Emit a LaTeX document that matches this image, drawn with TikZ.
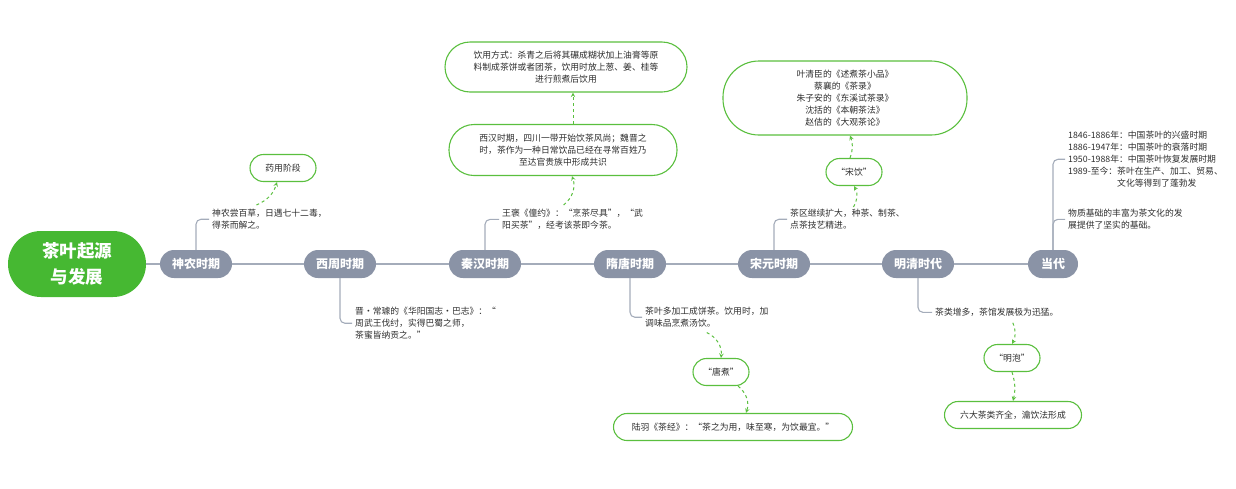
\documentclass[tikz,border=0pt]{standalone}
\usepackage{fontspec}
\setmainfont{Noto Sans CJK SC}
\usepackage{tikz}
\usetikzlibrary{arrows}
\definecolor{leafgreen}{HTML}{46B832}
\definecolor{rimgreen}{HTML}{5ABF3E}
\definecolor{slate}{HTML}{8A93A6}
\definecolor{wire}{HTML}{A4ACBA}
\definecolor{ink}{HTML}{2E2E2E}

\begin{document}
\begin{tikzpicture}[x=1pt,y=-1pt,
    period/.style={fill=slate,text=white,font=\fontsize{12}{14}\selectfont\bfseries,minimum height=28pt,minimum width=72pt,rounded corners=14pt,inner sep=0pt},
    bubble/.style={draw=rimgreen,line width=1.1pt,fill=white,text=ink,font=\fontsize{8.8}{12}\selectfont,align=center,minimum height=27pt,rounded corners=13.5pt,inner sep=0pt},
    note/.style={text=ink,font=\fontsize{8.8}{12}\selectfont,align=left,anchor=north west,inner sep=0pt},
    trunk/.style={draw=wire,line width=1.3pt},
    branch/.style={draw=wire,line width=1.1pt,rounded corners=5pt,shorten >=3pt},
    hint/.style={draw=rimgreen,line width=1pt,dashed,-stealth}]
    \useasboundingbox (0,0) rectangle (1236,488);

    \node[fill=leafgreen,text=white,font=\fontsize{17.5}{26}\selectfont\bfseries,align=center,minimum width=138pt,minimum height=66pt,rounded corners=33pt,inner sep=0pt] (root) at (77,264) {茶叶起源\\与发展};
    \node[period] (shennong) at (196,264) {神农时期};
    \node[period] (xizhou) at (340,264) {西周时期};
    \node[period] (qinhan) at (485,264) {秦汉时期};
    \node[period] (suitang) at (630,264) {隋唐时期};
    \node[period] (songyuan) at (774,264) {宋元时期};
    \node[period] (mingqing) at (918,264) {明清时代};
    \node[period,minimum width=50pt] (dangdai) at (1053,264) {当代};
    \draw[trunk] (root) -- (shennong) -- (xizhou) -- (qinhan) -- (suitang) -- (songyuan) -- (mingqing) -- (dangdai);

    \node[note] (sn_txt) at (212,209) {神农尝百草，日遇七十二毒，\\得茶而解之。};
    \node[note] (xz_txt) at (355,307) {晋·常璩的《华阳国志·巴志》：“\\周武王伐纣，实得巴蜀之师，\\茶蜜皆纳贡之。”};
    \node[note] (qh_txt) at (502,209) {王褒《僮约》：“烹茶尽具”，“武\\阳买茶”，经考该茶即今茶。};
    \node[note] (st_txt) at (645,307) {茶叶多加工成饼茶。饮用时，加\\调味品烹煮汤饮。};
    \node[note] (sy_txt) at (790,209) {茶区继续扩大，种茶、制茶、\\点茶技艺精进。};
    \node[note] (mq_txt) at (935,308) {茶类增多，茶馆发展极为迅猛。};
    \node[note] (dd_txt) at (1068,131) {1846-1886年：中国茶叶的兴盛时期\\1886-1947年：中国茶叶的衰落时期\\1950-1988年：中国茶叶恢复发展时期\\1989-至今：茶叶在生产、加工、贸易、\\\phantom{1989-至今：}文化等得到了蓬勃发};
    \node[note] (dd_base) at (1068,209) {物质基础的丰富为茶文化的发\\展提供了坚实的基础。};

    \draw[branch] (shennong.north) |- (sn_txt.west);
    \draw[branch] (xizhou.south) |- (xz_txt.west);
    \draw[branch] (qinhan.north) |- (qh_txt.west);
    \draw[branch] (suitang.south) |- (st_txt.west);
    \draw[branch] (songyuan.north) |- (sy_txt.west);
    \draw[branch] (mingqing.south) |- (mq_txt.west);
    \draw[branch] (dangdai.north) |- (dd_txt.west);
    \draw[branch] (dangdai.north) |- (dd_base.west);

    \node[bubble,minimum width=66pt] (yaoyong) at (283,168) {药用阶段};
    \node[bubble,minimum width=228pt,minimum height=51pt,rounded corners=25pt] (xihan) at (563,150) {西汉时期，四川一带开始饮茶风尚；魏晋之\\时，茶作为一种日常饮品已经在寻常百姓乃\\至达官贵族中形成共识};
    \node[bubble,minimum width=242pt,minimum height=50pt,rounded corners=25pt] (yinyong) at (566,67) {饮用方式：杀青之后将其碾成糊状加上油膏等原\\料制成茶饼或者团茶，饮用时放上葱、姜、桂等\\进行煎煮后饮用};
    \node[bubble,minimum width=56pt] (tangzhu) at (721,372) {“唐煮”};
    \node[bubble,minimum width=239pt] (luyu) at (733,427) {陆羽《茶经》：“茶之为用，味至寒，为饮最宜。”};
    \node[bubble,minimum width=56pt] (songyin) at (854,172) {“宋饮”};
    \node[bubble,minimum width=244pt,minimum height=74pt,rounded corners=36pt] (songshu) at (845,98) {叶清臣的《述煮茶小品》\\蔡襄的《茶录》\\朱子安的《东溪试茶录》\\沈括的《本朝茶法》\\赵佶的《大观茶论》};
    \node[bubble,minimum width=56pt] (mingpao) at (1012,358) {“明泡”};
    \node[bubble,minimum width=137pt] (liuda) at (1013,415) {六大茶类齐全，瀹饮法形成};

    \draw[hint] ([shift={(-13,-4)}]sn_txt.north) to[bend right=25] ([xshift=-6pt]yaoyong.south);
    \draw[hint] ([shift={(-9,-4)}]qh_txt.north) to[bend right=35] ([xshift=9pt]xihan.south);
    \draw[hint] ([xshift=10pt]xihan.north) -- ([xshift=7pt]yinyong.south);
    \draw[hint] ([yshift=-5pt]st_txt.south) to[bend left=35] (tangzhu.north);
    \draw[hint] ([xshift=17pt]tangzhu.south) to[bend left=35] ([xshift=13pt]luyu.north);
    \draw[hint] ([shift={(6,-2)}]sy_txt.north) to[bend right=30] (songyin.south);
    \draw[hint] ([xshift=-4pt]songyin.north) to[bend right=20] ([xshift=5pt]songshu.south);
    \draw[hint] ([shift={(16,6)}]mq_txt.south) to[bend left=25] (mingpao.north);
    \draw[hint] (mingpao.south) to[bend left=15] (liuda.north);
\end{tikzpicture}
\end{document}
